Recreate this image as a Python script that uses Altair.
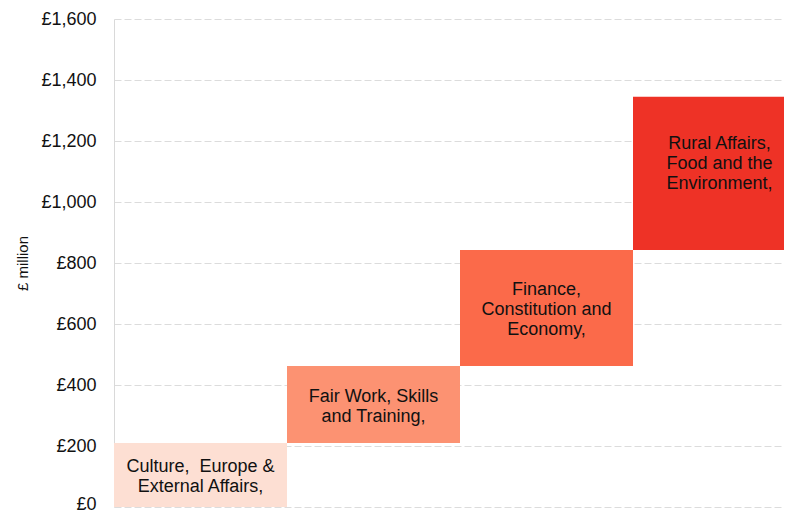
import altair as alt
import pandas as pd

categories = [
    "Culture,\u00a0 Europe &\nExternal Affairs,",
    "Fair Work, Skills\nand Training,",
    "Finance,\nConstitution and\nEconomy,",
    "Rural Affairs,\nFood and the\nEnvironment,",
]
increments = [210, 252, 381, 502]
colors = ["#FDDFD3", "#FC9272", "#FB6A4A", "#EE3226"]
y_ticks = [0, 200, 400, 600, 800, 1000, 1200, 1400, 1600]

ends = pd.Series(increments).cumsum()
df = pd.DataFrame({
    "label": categories,
    "idx": list(range(len(categories))),
    "start": [0] + ends[:-1].tolist(),
    "end": ends.tolist(),
    "color": colors,
})
df["x0"] = df["idx"]
df["x1"] = df["idx"] + 1
df["xm"] = df["idx"] + 0.5
df["ym"] = (df["start"] + df["end"]) / 2

PW = 670
xscale = alt.Scale(domain=[0, PW / 173], nice=False, zero=False)
yscale = alt.Scale(domain=[0, 1600], nice=False)

base = alt.Chart(df)

bars = base.mark_rect(clip=True).encode(
    x=alt.X("x0:Q", scale=xscale, axis=None),
    x2="x1:Q",
    y=alt.Y(
        "start:Q",
        scale=yscale,
        axis=alt.Axis(
            values=y_ticks,
            title="£ million",
            labelExpr="'£' + format(datum.value, ',')",
            ticks=False,
            domainColor="#d9d9d9",
            grid=True,
            gridColor="#dcdcdc",
            gridDash=[7, 3],
            labelFontSize=18,
            labelColor="#111111",
            labelPadding=18,
            labelOffset={"condition": {"test": "datum.value == 0", "value": -3}, "value": 0},
            labelFont="Liberation Sans",
            titleFont="Liberation Sans",
            titleFontSize=15,
            titleFontWeight="normal",
            titleColor="#111111",
            titleAngle=-90,
            titleX=-92,
            titleY=244,
            titleAlign="center",
            titleBaseline="middle",
        ),
    ),
    y2="end:Q",
    color=alt.Color("color:N", scale=None),
)


def label_layer(filt, dy):
    return base.transform_filter(filt).mark_text(
        font="Liberation Sans", fontSize=18, lineBreak="\n", lineHeight=20,
        color="#111111", align="center", baseline="middle", dy=dy, clip=False,
    ).encode(
        x=alt.X("xm:Q", scale=xscale),
        y=alt.Y("ym:Q", scale=yscale),
        text="label:N",
    )


chart = (
    alt.layer(
        bars,
        label_layer("datum.idx < 2", -8),
        label_layer("datum.idx == 2", -18),
        label_layer("datum.idx == 3", -29),
    )
    .properties(
        width=PW,
        height=488,
        autosize=alt.AutoSizeParams(type="none"),
        padding={"left": 106, "top": 11, "right": 0, "bottom": 8},
    )
    .configure_view(stroke=None)
)

chart.save("out.html", embed_options={"renderer": "svg", "actions": False})
